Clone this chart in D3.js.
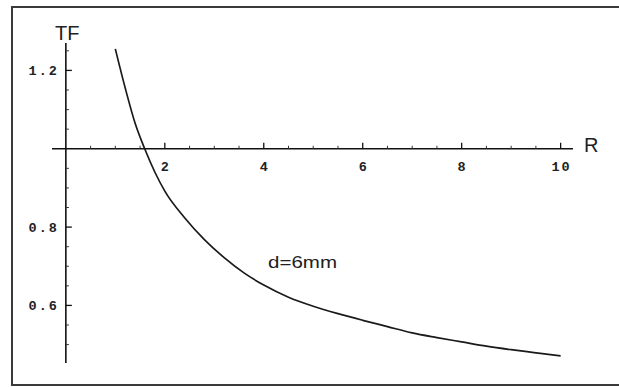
<!DOCTYPE html>
<meta charset="utf-8">
<style>
  body { margin: 0; background: #fff; }
  .tick-label { font-family: "Liberation Mono", monospace; font-weight: bold; font-size: 13.5px; letter-spacing: 2px; fill: #222; }
  .axis-title { font-family: "Liberation Sans", Arial, sans-serif; font-size: 20px; fill: #222; }
</style>
<div id="chart"></div>
<script src="https://d3js.org/d3.v7.min.js"></script>
<script>

// values
var R  = [1.0, 1.2, 1.4, 1.6, 1.8, 2.0, 2.4, 2.8, 3.2, 3.6, 4.0, 4.5, 5.0, 5.5, 6.0, 6.5, 7.0, 7.5, 8.0, 8.5, 9.0, 9.5, 10.0];
var TF = [1.255, 1.155, 1.065, 0.998, 0.94, 0.892, 0.824, 0.768, 0.722, 0.683, 0.652, 0.621, 0.598, 0.579, 0.562, 0.546, 0.530, 0.518, 0.507, 0.496, 0.487, 0.479, 0.471];
var xTickLabels = [2, 4, 6, 8, 10];
var yTickLabels = [1.2, 0.8, 0.6];
var curveLabel = "d=6mm";

var width = 619, height = 387;

var svg = d3.select("#chart")
  .append("svg")
  .attr("width", width)
  .attr("height", height);

// frame
svg.append("rect")
  .attr("x", 12)
  .attr("y", 7)
  .attr("width", 640)
  .attr("height", 378)
  .attr("fill", "none")
  .attr("stroke", "#3a3a3a")
  .attr("stroke-width", 2);

var x = d3.scaleLinear().domain([-0.28, 10.25]).range([52, 573]);
var y = d3.scaleLinear().domain([0.453, 1.27]).range([363, 43]);

var x0 = x(0), y0 = y(1);   // axes cross at R=0, TF=1

// x axis
svg.append("line")
  .attr("x1", x.range()[0]).attr("x2", x.range()[1])
  .attr("y1", y0).attr("y2", y0)
  .attr("stroke", "#111").attr("stroke-width", 1.6);

var xMinor = d3.range(0.5, 10.01, 0.5).filter(function(d) { return d % 2 != 0; });
svg.append("g").selectAll("line")
  .data(xMinor)
  .enter().append("line")
    .attr("x1", function(d) { return x(d); }).attr("x2", function(d) { return x(d); })
    .attr("y1", y0).attr("y2", y0 - 3)
    .attr("stroke", "#333").attr("stroke-width", 1);

svg.append("g").selectAll("line")
  .data(xTickLabels)
  .enter().append("line")
    .attr("x1", function(d) { return x(d); }).attr("x2", function(d) { return x(d); })
    .attr("y1", y0).attr("y2", y0 - 6)
    .attr("stroke", "#111").attr("stroke-width", 1.3);

svg.append("g").selectAll("text")
  .data(xTickLabels)
  .enter().append("text")
    .attr("class", "tick-label")
    .attr("x", function(d) { return x(d) + 1; })
    .attr("y", y0 + 22)
    .attr("text-anchor", "middle")
    .text(function(d) { return d; });

// y axis
svg.append("line")
  .attr("x1", x0).attr("x2", x0)
  .attr("y1", y.range()[0]).attr("y2", y.range()[1])
  .attr("stroke", "#111").attr("stroke-width", 1.6);

var yMinor = d3.range(0.5, 1.26, 0.05).filter(function(d) {
  return Math.abs(Math.round(d * 5) - d * 5) > 0.01;
});
svg.append("g").selectAll("line")
  .data(yMinor)
  .enter().append("line")
    .attr("x1", x0).attr("x2", x0 + 3)
    .attr("y1", function(d) { return y(d); }).attr("y2", function(d) { return y(d); })
    .attr("stroke", "#333").attr("stroke-width", 1);

svg.append("g").selectAll("line")
  .data(yTickLabels)
  .enter().append("line")
    .attr("x1", x0).attr("x2", x0 + 6)
    .attr("y1", function(d) { return y(d); }).attr("y2", function(d) { return y(d); })
    .attr("stroke", "#111").attr("stroke-width", 1.3);

svg.append("g").selectAll("text")
  .data(yTickLabels)
  .enter().append("text")
    .attr("class", "tick-label")
    .attr("x", x0 - 7)
    .attr("y", function(d) { return y(d) + 4.5; })
    .attr("text-anchor", "end")
    .text(function(d) { return d3.format(".1f")(d); });

// axis titles
svg.append("text")
  .attr("class", "axis-title")
  .attr("x", 55).attr("y", 40)
  .text("TF");

svg.append("text")
  .attr("class", "axis-title")
  .attr("x", 584).attr("y", 152)
  .text("R");

// curve
var data = R.map(function(r, i) { return { r: r, tf: TF[i] }; });

var line = d3.line()
  .x(function(d) { return x(d.r); })
  .y(function(d) { return y(d.tf); })
  .curve(d3.curveMonotoneX);

svg.append("path")
  .datum(data)
  .attr("fill", "none")
  .attr("stroke", "#1a1a1a")
  .attr("stroke-width", 1.7)
  .attr("d", line);

svg.append("text")
  .attr("x", 268).attr("y", 268)
  .attr("font-family", "Liberation Sans, Arial, sans-serif")
  .attr("font-size", 17)
  .attr("fill", "#222")
  .attr("textLength", 69)
  .attr("lengthAdjust", "spacingAndGlyphs")
  .text(curveLabel);

</script>
